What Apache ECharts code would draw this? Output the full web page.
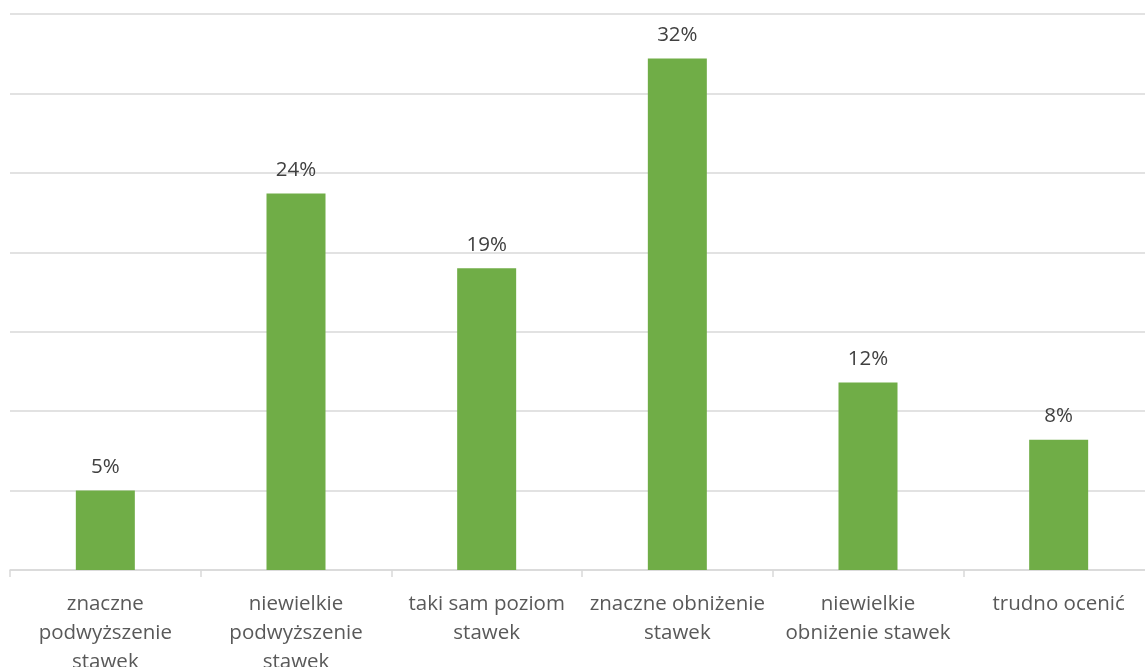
<!DOCTYPE html>
<html><head><meta charset="utf-8">
<script src="https://cdn.jsdelivr.net/npm/echarts@6/dist/echarts.min.js"></script>
<style>html,body{margin:0;padding:0;background:#fff}#c{width:1145px;height:667px}</style>
</head><body><div id="c"></div>
<script>
const categories = ["znaczne\npodwyższenie\nstawek","niewielkie\npodwyższenie\nstawek","taki sam poziom\nstawek","znaczne obniżenie\nstawek","niewielkie\nobniżenie stawek","trudno ocenić"];
const values = [5.0, 23.7, 19.0, 32.2, 11.8, 8.2];
const labels = ["5%","24%","19%","32%","12%","8%"];
const chart = echarts.init(document.getElementById('c'));
chart.setOption({
  animation:false,
  grid:{left:10,top:14,width:1144,bottom:97,containLabel:false,outerBoundsMode:'none'},
  xAxis:{type:'category',data:categories,
    axisLine:{lineStyle:{color:'#d9d9d9',width:1.5}},
    axisTick:{show:true,length:7,lineStyle:{color:'#d9d9d9',width:1.5}},
    axisLabel:{color:'#595959',fontSize:20.5,fontFamily:'Open Sans',lineHeight:29,margin:20,interval:0}},
  yAxis:{type:'value',min:0,max:35,interval:5,axisLabel:{show:false},
    axisLine:{show:false},axisTick:{show:false},
    splitLine:{lineStyle:{color:'#d9d9d9',width:1.5}}},
  series:[{type:'bar',data:values,barWidth:59,
    itemStyle:{color:'#70AD47'},
    label:{show:true,position:'top',distance:13,color:'#404040',fontSize:20.5,fontFamily:'Open Sans',
      formatter:p=>labels[p.dataIndex]}}]
});
</script></body></html>
